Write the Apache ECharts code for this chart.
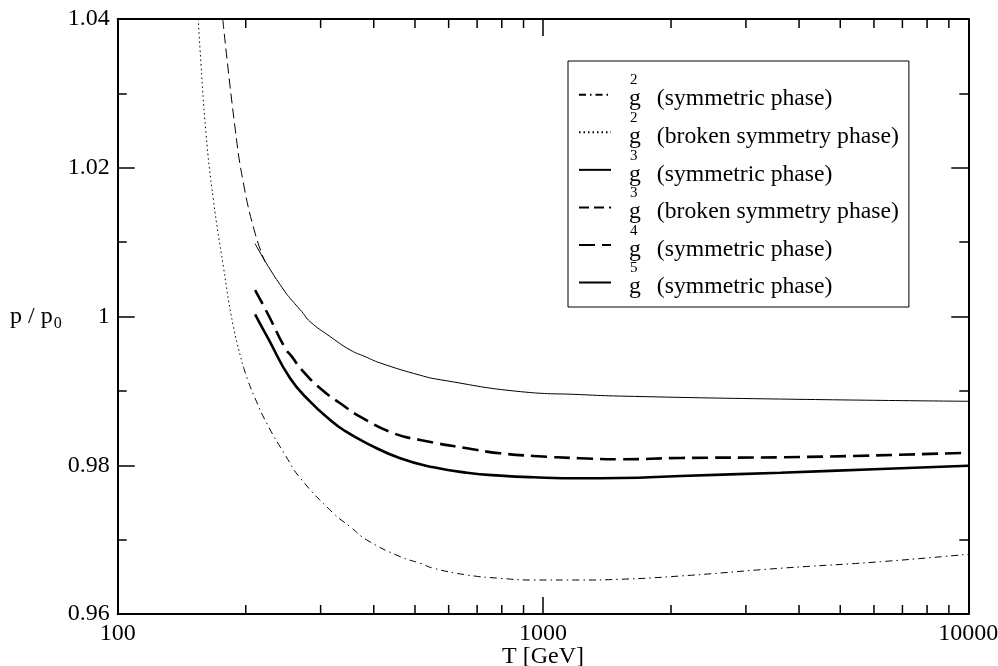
<!DOCTYPE html>
<html>
<head>
<meta charset="utf-8">
<script src="https://cdn.jsdelivr.net/npm/echarts@6/dist/echarts.min.js"></script>
<style>
html,body{margin:0;padding:0;background:#fff;overflow:hidden;}
#chart{width:998px;height:666px;}
</style>
</head>
<body>
<div id="chart"></div>
<script>
// ---- data (T in GeV, p/p0) ----
const seriesNames = [
  'g2 (symmetric phase)',
  'g2 (broken symmetry phase)',
  'g3 (symmetric phase)',
  'g3 (broken symmetry phase)',
  'g4 (symmetric phase)',
  'g5 (symmetric phase)'
];
const g2Symmetric = [
  [197.5,0.99321],[202.9,0.99124],[210.4,0.98900],[224.5,0.98555],[247.6,0.98138],
  [268.5,0.97829],[321.6,0.97354],[352.0,0.97174],[385.4,0.96995],[461.5,0.96771],
  [514.4,0.96682],[552.8,0.96615],[662.6,0.96525],[793.5,0.96480],[950.5,0.96457],
  [1224,0.96457],[1520,0.96467],[2104,0.96511],[3617,0.96615],[6217,0.96703],[10000,0.96803]
];
const g2Broken = [
  [154.7,1.0400],[156.2,1.03583],[161.3,1.02463],[167.9,1.01566],[177.2,1.00670],
  [187.1,0.99863],[197.5,0.99321]
];
const g3Symmetric = [
  [210.4,1.0098],[226.1,1.0067],[247.6,1.0033],[254.3,1.00245],[271.0,1.00065],
  [283.5,0.9993],[315.9,0.9973],[352.0,0.9955],[381.9,0.9946],[414.2,0.99375],
  [514.4,0.9921],[573.2,0.9915],[884.4,0.9899],[1224,0.9895],[1520,0.9893],
  [3617,0.9889],[10000,0.9886]
];
const g3Broken = [
  [176.6,1.0400],[188.8,1.02534],[197.5,1.01795],[210.4,1.01119],[222.1,1.00733]
];
const g4Symmetric = [
  [210.4,1.00356],[226.1,1.00020],[247.6,0.99573],[256.7,0.99460],[271.0,0.99281],
  [299.2,0.99035],[333.5,0.98833],[375.1,0.98639],[445.1,0.98430],[514.4,0.98340],
  [662.6,0.98228],[793.5,0.98161],[950.5,0.98125],[1224,0.98094],[1520,0.98080],
  [2104,0.98098],[3617,0.98107],[10000,0.98169]
];
const g5Symmetric = [
  [210.4,1.00030],[226.1,0.99698],[254.3,0.99169],[283.5,0.98855],[315.9,0.98609],
  [339.5,0.98474],[385.4,0.98295],[461.5,0.98094],[552.8,0.97973],[662.6,0.97900],
  [793.5,0.97860],[950.5,0.97838],[1224,0.97825],[1520,0.97829],[2104,0.97856],
  [3617,0.97900],[6217,0.97950],[10000,0.97994]
];
const xMinorTicks = [200,300,400,500,600,700,800,900,2000,3000,4000,5000,6000,7000,8000,9000];
const xRange = [100, 10000];
const yRange = [0.96, 1.04];
const yInterval = 0.02;
const xAxisTitle = 'T [GeV]';

// ---- styles ----
const FONT = 'Liberation Serif';
const FS = 24;
const LFS = 23.7;
const MAJOR_LEN = 17, MINOR_LEN = 9;
const thin = 1, thick = 2.6;

const chart = echarts.init(document.getElementById('chart'), null, {renderer:'canvas'});

function legendLabel(name){
  const m = name.match(/^g(\d) (.*)$/);
  return '{sup|' + m[1] + '}\n{g|g}{t|' + m[2] + '}';
}

const lineStyles = [
  {width: thin, type: [7,4,1.5,4]},
  {width: thin, type: [1.5,3]},
  {width: thin, type: 'solid'},
  {width: thin, type: [10,5]},
  {width: thick, type: [16,7]},
  {width: thick, type: 'solid'}
];
const datasets = [g2Symmetric, g2Broken, g3Symmetric, g3Broken, g4Symmetric, g5Symmetric];

const lineSeries = seriesNames.map((n, i) => ({
  name: n,
  type: 'line',
  data: datasets[i],
  showSymbol: false,
  symbol: 'none',
  smooth: 0.5,
  lineStyle: Object.assign({color:'#000'}, lineStyles[i]),
  itemStyle: {color:'#000'},
  emphasis: {disabled: true},
  animation: false,
  z: 3
}));

const axisCommon = {
  axisLine: {show:true, onZero:false, lineStyle:{color:'#000', width:2}},
  axisTick: {show:true, inside:true, length:MAJOR_LEN, lineStyle:{color:'#000', width:1.5}},
  splitLine: {show:false}
};

const option = {
  animation: false,
  backgroundColor: '#fff',
  grid: {left: 117.7, right: 29.7, top: 19, bottom: 52, containLabel: false, outerBoundsMode: 'none'},
  legend: {
    data: seriesNames,
    orient: 'vertical',
    left: 568,
    top: 61,
    padding: [12, 10, 8, 10],
    borderColor: '#000',
    borderWidth: 1,
    itemWidth: 32,
    itemHeight: 14,
    itemGap: -0.7,
    selectedMode: false,
    itemStyle: {opacity: 0},
    formatter: legendLabel,
    textStyle: {
      fontFamily: FONT, fontSize: LFS, color: '#000',
      rich: {
        sup: {fontFamily: FONT, fontSize: 15, color:'#000', height: 9, lineHeight: 9, padding:[0,0,0,14]},
        g: {fontFamily: FONT, fontSize: LFS, color:'#000', lineHeight: 28.5, padding:[0,16,0,13]},
        t: {fontFamily: FONT, fontSize: LFS, color:'#000', lineHeight: 28.5}
      }
    }
  },
  xAxis: [
    Object.assign({
      type: 'log', logBase: 10, min: xRange[0], max: xRange[1], position: 'bottom',
      name: xAxisTitle, nameLocation: 'middle', nameGap: 31, nameMoveOverlap: false,
      nameTextStyle: {fontFamily: FONT, fontSize: FS, color:'#000'},
      axisLabel: {show:true, margin: 8, fontFamily: FONT, fontSize: FS, color:'#000',
        formatter: v => String(Math.round(v))}
    }, axisCommon),
    Object.assign({
      type: 'log', logBase: 10, min: xRange[0], max: xRange[1], position: 'top',
      axisLabel: {show:false}
    }, axisCommon)
  ],
  yAxis: [
    Object.assign({
      type: 'value', min: yRange[0], max: yRange[1], interval: yInterval, position: 'left',
      name: '{p|p / p}{sub|0}', nameLocation: 'middle', nameGap: 56, nameRotate: 0, nameMoveOverlap: false,
      nameTextStyle: {fontFamily: FONT, fontSize: FS, color:'#000',
        rich: {
          p: {fontFamily: FONT, fontSize: FS, color:'#000', lineHeight: 30},
          sub: {fontFamily: FONT, fontSize: 16, color:'#000', lineHeight: 20, padding:[14,0,0,1]}
        }},
      axisLabel: {show:true, margin: 8, fontFamily: FONT, fontSize: FS, color:'#000',
        formatter: v => String(+v.toFixed(2))},
      minorTick: {show:true, splitNumber:2, length: MINOR_LEN, lineStyle:{color:'#000', width:1.5}}
    }, axisCommon),
    Object.assign({
      type: 'value', min: yRange[0], max: yRange[1], interval: yInterval, position: 'right',
      axisLabel: {show:false},
      minorTick: {show:true, splitNumber:2, length: MINOR_LEN, lineStyle:{color:'#000', width:1.5}}
    }, axisCommon)
  ],
  series: lineSeries.concat([{
    name: 'minorTicksX',
    type: 'custom',
    silent: true,
    animation: false,
    clip: false,
    data: xMinorTicks.map(v => [v, yRange[0]]),
    renderItem: function(params, api){
      const v = api.value(0);
      const b = api.coord([v, yRange[0]]);
      const t = api.coord([v, yRange[1]]);
      return {type:'group', children:[
        {type:'line', shape:{x1:b[0], y1:b[1], x2:b[0], y2:b[1]-MINOR_LEN}, style:{stroke:'#000', lineWidth:1.5}},
        {type:'line', shape:{x1:t[0], y1:t[1], x2:t[0], y2:t[1]+MINOR_LEN}, style:{stroke:'#000', lineWidth:1.5}}
      ]};
    }
  }])
};
chart.setOption(option);
</script>
</body>
</html>
